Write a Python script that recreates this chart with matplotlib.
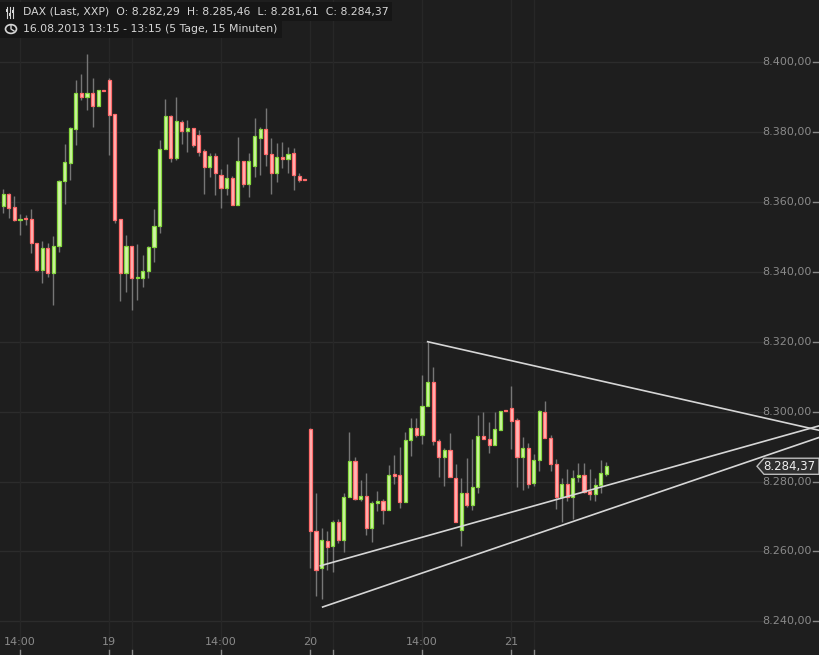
import numpy as np
import matplotlib
matplotlib.use("Agg")
import matplotlib.pyplot as plt
from matplotlib.patches import Rectangle, Polygon, Circle

# 15-minute DAX candles, Fri 16.08 13:15 -> Wed 21.08 13:15 (slot 0 = Mon 19, 09:00)
opens = [
    8358.9, 8362.3, 8358.6, 8354.7, 8355.2, 8355.2, 8348.3, 8340.6, 8346.9, 8339.6,
    8347.3, 8366.1, 8371.0, 8381.0, 8391.2, 8389.9, 8391.2, 8387.3, 8392.1,
    8394.9, 8385.2, 8355.2, 8339.6, 8347.4, 8338.2, 8338.1, 8340.2, 8347.0, 8353.0,
    8375.0, 8384.5, 8372.7, 8382.9, 8380.2, 8381.1, 8379.1, 8374.5, 8370.1, 8373.1,
    8367.7, 8363.9, 8366.8, 8359.0, 8371.7, 8365.0, 8370.4, 8378.4, 8380.8, 8373.7,
    8368.2, 8372.8, 8372.4, 8374.0, 8367.4, 8366.3,
    8294.9, 8265.9, 8255.3, 8263.1, 8261.6, 8268.5, 8263.3, 8275.7, 8285.9, 8275.0,
    8276.0, 8266.7, 8274.0, 8274.5, 8271.9, 8281.8, 8281.8, 8274.2, 8292.0, 8295.4,
    8293.3, 8301.7, 8308.5, 8291.6, 8287.0, 8289.1, 8281.1, 8266.0, 8276.8, 8273.3,
    8278.5, 8293.1, 8292.3, 8290.5, 8294.7, 8300.3,
    8301.1, 8297.6, 8287.0, 8289.7, 8279.6, 8286.3, 8300.0, 8292.5, 8285.1, 8275.7,
    8279.4, 8275.7, 8281.3, 8281.8, 8277.4, 8276.5, 8279.1, 8282.29,
]
highs = [
    8363.8, 8362.5, 8361.8, 8356.6, 8356.3, 8358.0, 8348.3, 8348.9, 8348.3, 8350.3,
    8366.3, 8376.6, 8381.4, 8394.9, 8396.6, 8402.3, 8395.5, 8392.1, 8392.1,
    8395.5, 8385.2, 8355.2, 8350.6, 8347.4, 8348.0, 8344.9, 8347.5, 8358.0, 8377.8,
    8389.5, 8384.9, 8390.0, 8383.5, 8383.5, 8381.1, 8380.5, 8375.1, 8374.0, 8374.0,
    8369.5, 8370.9, 8367.5, 8378.6, 8371.7, 8374.0, 8384.0, 8381.5, 8386.9, 8378.2,
    8376.8, 8377.1, 8375.7, 8375.4, 8368.2, 8366.3,
    8295.4, 8276.6, 8266.8, 8265.8, 8269.0, 8269.2, 8276.8, 8294.1, 8286.9, 8280.4,
    8282.4, 8274.5, 8277.4, 8275.1, 8284.6, 8287.7, 8289.8, 8294.1, 8298.3, 8298.3,
    8310.6, 8320.0, 8312.8, 8292.3, 8289.6, 8294.0, 8284.9, 8280.9, 8286.6, 8292.1,
    8298.9, 8299.8, 8296.9, 8300.0, 8300.3, 8300.3,
    8307.2, 8298.1, 8292.6, 8291.1, 8288.0, 8300.5, 8302.9, 8293.2, 8286.4, 8281.1,
    8283.7, 8283.2, 8285.4, 8285.4, 8283.5, 8280.9, 8286.1, 8285.46,
]
lows = [
    8356.9, 8355.3, 8354.5, 8350.4, 8353.3, 8345.3, 8340.2, 8336.7, 8338.6, 8330.6,
    8345.8, 8359.5, 8366.4, 8376.2, 8389.2, 8386.3, 8381.5, 8387.3, 8391.8,
    8373.3, 8353.9, 8331.6, 8334.1, 8329.2, 8331.9, 8335.6, 8338.1, 8342.7, 8351.0,
    8375.0, 8371.3, 8372.0, 8376.6, 8374.2, 8375.6, 8373.0, 8362.4, 8367.0, 8361.9,
    8358.4, 8362.1, 8359.0, 8359.0, 8364.4, 8361.3, 8367.0, 8367.6, 8370.2, 8362.4,
    8365.6, 8369.6, 8368.4, 8363.3, 8365.6, 8366.2,
    8255.2, 8247.3, 8246.5, 8254.7, 8254.0, 8262.5, 8259.7, 8275.7, 8274.7, 8274.5,
    8264.7, 8262.7, 8271.6, 8267.9, 8271.9, 8279.3, 8272.4, 8274.2, 8287.3, 8292.7,
    8290.6, 8301.7, 8290.5, 8281.3, 8278.7, 8281.3, 8268.3, 8261.6, 8272.7, 8271.9,
    8276.7, 8292.3, 8288.2, 8290.5, 8294.7, 8300.2,
    8289.2, 8278.5, 8277.6, 8278.2, 8278.7, 8283.0, 8292.5, 8283.0, 8272.1, 8268.5,
    8274.4, 8269.2, 8279.9, 8276.6, 8274.7, 8274.5, 8276.7, 8281.61,
]
closes = [
    8362.3, 8358.4, 8354.7, 8355.2, 8355.0, 8348.2, 8340.6, 8346.9, 8339.6, 8347.4,
    8365.9, 8371.4, 8381.2, 8391.2, 8389.9, 8391.2, 8387.3, 8392.1, 8391.8,
    8385.0, 8354.9, 8339.6, 8347.4, 8338.1, 8338.4, 8340.2, 8347.1, 8353.1, 8375.1,
    8384.5, 8372.7, 8383.1, 8380.2, 8381.1, 8376.4, 8374.4, 8370.1, 8373.1, 8368.2,
    8363.9, 8366.8, 8359.0, 8371.7, 8365.0, 8371.7, 8378.8, 8380.8, 8373.7, 8368.2,
    8372.8, 8372.2, 8373.7, 8367.6, 8366.2, 8366.2,
    8265.9, 8254.7, 8263.4, 8261.4, 8268.5, 8263.3, 8275.7, 8285.9, 8275.0, 8276.0,
    8266.7, 8274.0, 8274.5, 8271.9, 8281.8, 8281.7, 8274.2, 8292.0, 8295.4, 8293.3,
    8301.7, 8308.5, 8291.6, 8287.0, 8289.1, 8281.3, 8268.3, 8276.8, 8273.3, 8278.5,
    8293.1, 8292.3, 8290.5, 8295.1, 8300.3, 8300.2,
    8297.3, 8287.0, 8289.7, 8279.3, 8286.3, 8300.2, 8292.5, 8285.1, 8275.7, 8279.4,
    8275.7, 8281.1, 8281.8, 8277.1, 8276.5, 8279.1, 8282.3, 8284.37,
]
first_slot = -19

# time axis: slot index -> label
tick_slots = [-16, 0, 4, 20, 36, 40, 56, 72, 76]
tick_labels = ["14:00", "19", "", "14:00", "20", "", "14:00", "21", ""]

price_ticks = [8240, 8260, 8280, 8300, 8320, 8340, 8360, 8380, 8400]

# hand-drawn trend lines (slot, price)
trend_upper = ([57, 127.25], [8320.0, 8294.6])
trend_mid = ([37.8, 127.25], [8255.9, 8296.0])
trend_low = ([38.2, 127.25], [8244.1, 8292.7])

header1 = "DAX (Last, XXP)  O: 8.282,29  H: 8.285,46  L: 8.281,61  C: 8.284,37"
header2 = "16.08.2013 13:15 - 13:15 (5 Tage, 15 Minuten)"


def de_fmt(v):
    s = f"{v:,.2f}"
    return s.replace(",", "X").replace(".", ",").replace("X", ".")


W, H = 820, 655
BG = "#1e1e1e"
fig = plt.figure(figsize=(W / 100, H / 100), dpi=100, facecolor=BG)
ax = fig.add_axes([0, 0, 1, 1], facecolor=BG)
ax.set_xlim(-19.57, 127.25)
ax.set_ylim(8230.37, 8417.77)
ax.axis("off")

# grid
for p in price_ticks:
    ax.axhline(p, xmin=0, xmax=765 / W, color="#2c2c2c", lw=1, zorder=0)
for s in tick_slots:
    ax.axvline(s, color="#272727", lw=1, zorder=0)

# candles
slots = np.arange(first_slot, first_slot + len(opens))
body_w = 0.56
for x, o, h, l, c in zip(slots, opens, highs, lows, closes):
    up = c >= o
    edge = "#86d93e" if up else "#ff6a6a"
    fill = "#d0f5a6" if up else "#ffb6b6"
    ax.plot([x, x], [l, h], color="#767676", lw=1, zorder=2, solid_capstyle="butt")
    bottom = min(o, c)
    height = max(abs(c - o), 0.35)
    ax.add_patch(Rectangle((x - body_w / 2, bottom), body_w, height,
                           facecolor=fill, edgecolor=edge, lw=0.9, zorder=3))

# trend lines
for tx, ty in (trend_upper, trend_mid, trend_low):
    ax.plot(tx, ty, color="#d6d6d6", lw=1.2, zorder=4)

# right price labels
ytrans = ax.get_yaxis_transform()
for p in price_ticks:
    ax.text(812 / W, p, de_fmt(p), transform=ytrans, ha="right", va="center",
            color="#8a8a8a", fontsize=8, zorder=5)
    ax.plot([813 / W, 818 / W], [p, p], transform=ytrans, color="#8a8a8a", lw=1, zorder=5)

# last price tag
last = closes[-1]
tag_h = 2.3
tag = Polygon([(757 / W, last), (764 / W, last + tag_h), (819 / W, last + tag_h),
               (819 / W, last - tag_h), (764 / W, last - tag_h)], closed=True,
              transform=ytrans, facecolor="#2f2f2f", edgecolor="#bdbdbd", lw=1, zorder=6)
ax.add_patch(tag)
ax.text(815 / W, last, de_fmt(last), transform=ytrans, ha="right", va="center",
        color="#f0f0f0", fontsize=8.5, zorder=7)

# bottom time labels and tick marks
xtrans = ax.get_xaxis_transform()
for s, lab in zip(tick_slots, tick_labels):
    ax.plot([s, s], [0, 5 / H], transform=xtrans, color="#8a8a8a", lw=1, zorder=5)
    if lab:
        ax.text(s, 1 - 642 / H, lab, transform=xtrans, ha="center", va="center",
                color="#8a8a8a", fontsize=8, zorder=5)

# header boxes and text (figure pixel coords, top-left origin)
def fx(x):
    return x / W


def fy(y):
    return 1 - y / H


fig.patches.append(Rectangle((0, fy(21)), fx(392), 19 / H, transform=fig.transFigure,
                             facecolor="#161616", edgecolor="none", zorder=8))
fig.patches.append(Rectangle((0, fy(38)), fx(282), 17 / H, transform=fig.transFigure,
                             facecolor="#161616", edgecolor="none", zorder=8))
fig.text(fx(23), fy(12), header1, color="#d6d6d6", fontsize=7.8, va="center", ha="left", zorder=10)
fig.text(fx(23), fy(29), header2, color="#d6d6d6", fontsize=7.8, va="center", ha="left", zorder=10)

# little slider icon
for i, knob in enumerate([10, 14, 11]):
    xx = fx(7 + 3 * i)
    fig.lines.append(plt.Line2D([xx, xx], [fy(18), fy(7)], transform=fig.transFigure,
                                color="#d6d6d6", lw=0.8, zorder=10))
    fig.patches.append(Rectangle((fx(6 + 3 * i), fy(knob + 1.5)), fx(2), 3 / H,
                                 transform=fig.transFigure, facecolor="#d6d6d6",
                                 edgecolor="none", zorder=10))

# clock icon
fig.patches.append(Circle((fx(11), fy(29)), 5.5 / W, transform=fig.transFigure,
                          facecolor="none", edgecolor="#d6d6d6", lw=1.2, zorder=10))
fig.lines.append(plt.Line2D([fx(11), fx(11), fx(14)], [fy(25), fy(29), fy(31)],
                            transform=fig.transFigure, color="#d6d6d6", lw=1, zorder=10))

fig.savefig("out.png", dpi=100, facecolor=BG)
